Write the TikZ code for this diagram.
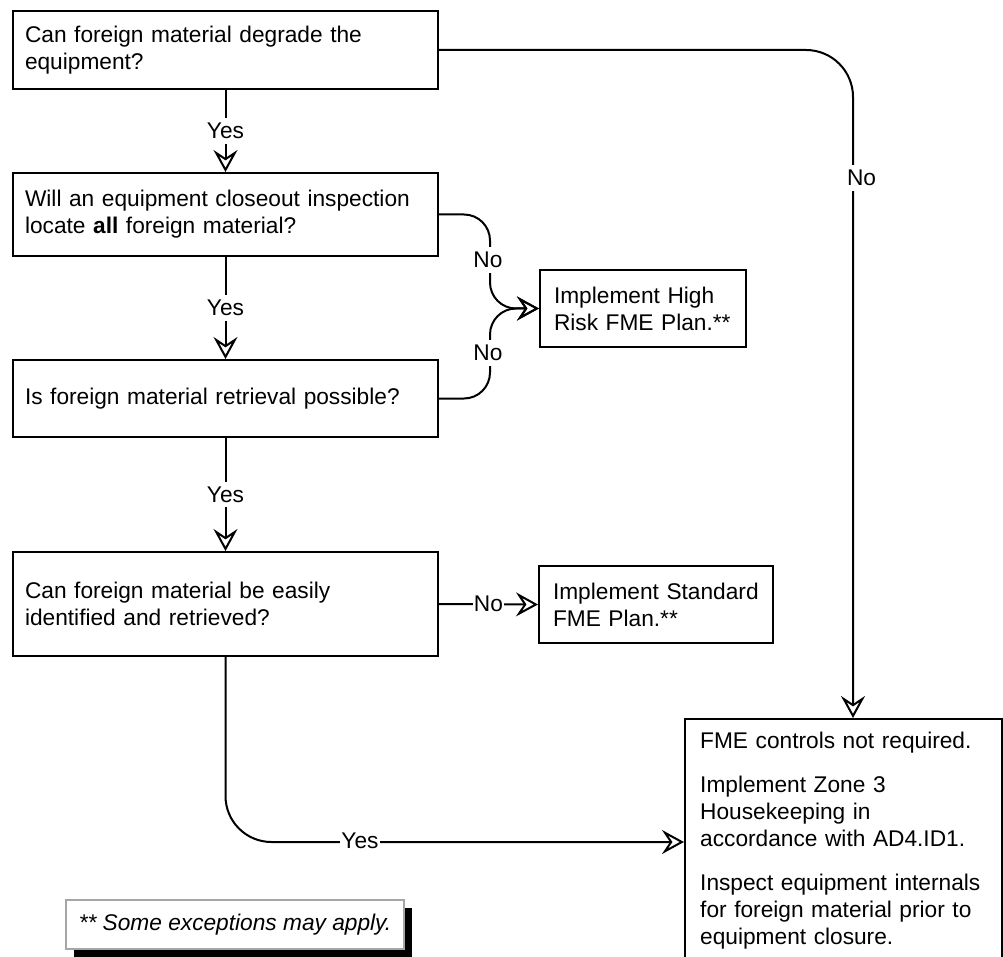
\documentclass[tikz,border=0pt]{standalone}
\usepackage{fontspec}
\setmainfont{Liberation Sans}
\usetikzlibrary{arrows.meta}
\begin{document}
\begin{tikzpicture}[x=1pt,y=-1pt,
  every node/.style={font=\fontsize{22.7}{27}\selectfont},
  box/.style={draw, line width=2pt, rectangle, anchor=north west, align=left, inner xsep=12pt, inner ysep=0pt},
  lbl/.style={fill=white, inner xsep=1pt, inner ysep=5pt},
  conn/.style={line width=2pt, -{Stealth[open, length=22pt, width=24pt, inset=8pt]}},
  ]
\useasboundingbox (0,0) rectangle (1003,957);

\node[box, text width=401pt, minimum height=78pt] (b1) at (12,10)
  {Can foreign material degrade the\\equipment?};
\node[box, text width=401pt, minimum height=83pt] (b2) at (12,172)
  {Will an equipment closeout inspection\\locate \textbf{all} foreign material?};
\node[box, text width=401pt, minimum height=77pt] (b4) at (12,359)
  {Is foreign material retrieval possible?};
\node[box, text width=401pt, minimum height=104pt] (b5) at (12,551)
  {Can foreign material be easily\\identified and retrieved?};
\node[box, text width=178pt, minimum height=77pt, inner xsep=14pt] (b3) at (539,269)
  {Implement High\\Risk FME Plan.**};
\node[box, text width=206pt, minimum height=77pt, inner xsep=14pt] (b6) at (538,565)
  {Implement Standard\\FME Plan.**};
\node[box, minimum width=317pt, minimum height=246pt, inner sep=0pt] (b7) at (684,718) {};
\node[anchor=north west, align=left, text width=295pt, inner sep=0pt] (b7t) at (700,731.5)
  {FME controls not required.\\[17pt]
   Implement Zone 3\\Housekeeping in\\accordance with AD4.ID1.\\[17pt]
   Inspect equipment internals\\for foreign material prior to\\equipment closure.};

% note with shadow
\fill[black] (74,908) rectangle (412,962);
\draw[fill=white, draw=gray!70, line width=1.5pt] (66,900) rectangle (404,949);
\node[anchor=center, font=\fontsize{22.7}{27}\selectfont\itshape] (note) at (235,924.5)
  {** Some exceptions may apply.};

% connectors
\draw[conn] (b1.south) -- node[lbl] (y1) {Yes} (b2.north);
\draw[conn] (b2.south) -- node[lbl] (y2) {Yes} (b4.north);
\draw[conn] (b4.south) -- node[lbl] (y3) {Yes} (b5.north);
\draw[conn] (b5.east) -- node[lbl] (n4) {No} (b6.west);
\draw[conn, rounded corners=47pt] (b1.east) -| ([xshift=9.5pt]b7.north);
\draw[conn, rounded corners=26pt] (b2.east) -- ++(51,0) |- (b3.west);
\draw[conn, rounded corners=26pt] (b4.east) -- ++(51,0) |- (b3.west);
\draw[conn, rounded corners=46pt] (b5.south) |- (b7.west);

\node[lbl] (n1) at (861.5,178) {No};
\node[lbl] (n2) at (488,260) {No};
\node[lbl] (n3) at (488,353) {No};
\node[lbl] (y4) at (360,841) {Yes};
\end{tikzpicture}
\end{document}
